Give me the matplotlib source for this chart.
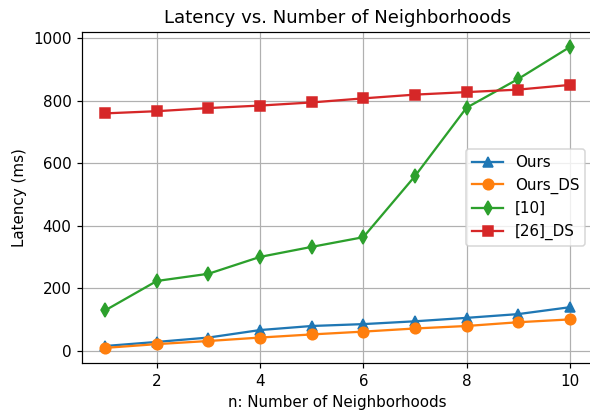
import matplotlib
matplotlib.use('Agg')
import matplotlib.pyplot as plt

# n: number of neighborhoods
n = [1, 2, 3, 4, 5, 6, 7, 8, 9, 10]

# latency values (ms)
ours = [16, 29, 43, 67, 80, 86, 95, 106, 118, 140]
ours_ds = [10, 22, 32, 43, 53, 62, 72, 80, 92, 101]
ref10 = [130, 224, 247, 301, 333, 364, 559, 778, 870, 972]
ref26_ds = [760, 767, 777, 785, 795, 808, 820, 828, 836, 851]

DPI = 109
fig = plt.figure(figsize=(590 / DPI, 411 / DPI), dpi=DPI)
ax = fig.add_axes([0.139, 0.117, 0.866, 0.805])

ax.plot(n, ours, marker='^', markersize=7, label='Ours')
ax.plot(n, ours_ds, marker='o', markersize=7, label='Ours_DS')
ax.plot(n, ref10, marker='d', markersize=7, label='[10]')
ax.plot(n, ref26_ds, marker='s', markersize=7, label='[26]_DS')

ax.set_xticks([2, 4, 6, 8, 10])
ax.set_title('Latency vs. Number of Neighborhoods')
ax.set_xlabel('n: Number of Neighborhoods')
ax.set_ylabel('Latency (ms)')
ax.grid(True)
ax.legend(loc='center right')

fig.savefig('out.png', dpi=DPI)
